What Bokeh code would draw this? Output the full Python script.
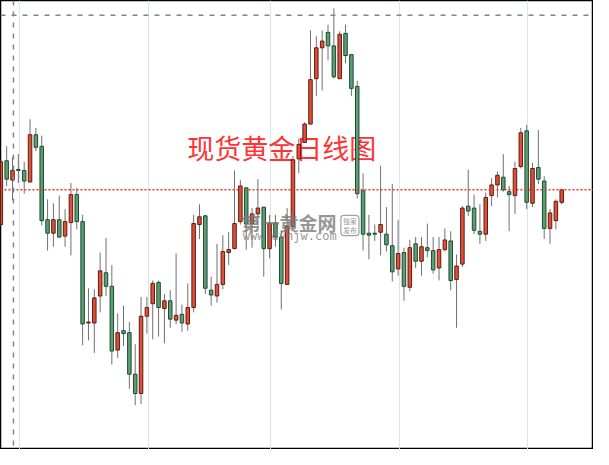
from bokeh.plotting import figure
from bokeh.models import Range1d, Span, FixedTicker, ColumnDataSource
from bokeh.core.properties import value
from bokeh.embed import file_html
from bokeh.resources import INLINE

title_text = "现货黄金日线图"
watermark_main = "第一黄金网"
watermark_url = "www.dyhjw.com"
watermark_box = ["独家", "发布"]

opens = [1868,1934,1914,1925,1924,1912,1961,1949,1873,1859,1873,1856,1870,1899,1871,1766,1766,1794,1818,1804,
         1738,1758,1756,1713,1693,1773,1786,1808,1781,1789,1769,1775,1765,1782,1868,1877,1800,1794,1806,1839,
         1843,1871,1906,1869,1879,1886,1843,1869,1855,1806,1866,1936,1953,1972,2019,2051,2067,2053,2019,2066,
         2044,2011,1903,1859,1859,1860,1858,1846,1822,1839,1803,1848,1830,1844,1841,1823,1842,1851,1811,1827,
         1887,1885,1861,1858,1898,1909,1917,1902,1898,1928,1965,1890,1927,1913,1864,1872,1891]
closes = [1933,1915,1924,1924,1913,1961,1948,1872,1859,1873,1855,1871,1899,1871,1765,1767,1792,1820,1804,1737,
          1756,1755,1713,1693,1773,1782,1807,1782,1789,1770,1774,1766,1782,1869,1876,1802,1795,1806,1840,1842,
          1869,1908,1869,1879,1885,1843,1869,1855,1807,1866,1935,1951,1972,2018,2051,2058,2053,2021,2065,2043,
          2009,1900,1858,1857,1858,1868,1847,1819,1838,1804,1844,1830,1845,1841,1821,1842,1852,1810,1825,1885,
          1882,1862,1858,1896,1909,1919,1904,1899,1926,1963,1891,1926,1915,1864,1880,1892,1904]
highs = [1935,1949,1938,1941,1933,1977,1968,1960,1894,1890,1898,1884,1911,1906,1878,1802,1801,1839,1854,1826,
         1776,1784,1767,1744,1793,1793,1810,1810,1796,1800,1838,1785,1807,1878,1889,1878,1814,1848,1857,1860,
         1924,1914,1906,1885,1915,1886,1878,1878,1862,1885,1939,1957,1974,2069,2063,2069,2075,2092,2068,2075,
         2044,2017,1921,1878,1868,1929,1886,1910,1873,1844,1852,1855,1855,1869,1855,1855,1864,1861,1837,1887,
         1925,1899,1889,1901,1916,1923,1941,1908,1933,1968,1971,1932,1966,1918,1884,1894,1905]
lows = [1866,1908,1893,1911,1900,1912,1944,1867,1841,1845,1854,1845,1836,1863,1743,1748,1735,1777,1794,1723,
        1730,1742,1698,1681,1682,1755,1749,1752,1745,1761,1765,1757,1758,1777,1853,1796,1784,1787,1801,1826,
        1843,1868,1842,1844,1867,1814,1833,1845,1780,1806,1863,1921,1953,1972,2001,2007,2038,2019,2019,2035,
        2001,1895,1841,1832,1851,1836,1840,1809,1815,1789,1799,1823,1815,1834,1817,1810,1840,1800,1761,1824,
        1877,1858,1848,1851,1887,1896,1902,1861,1879,1926,1884,1886,1910,1853,1848,1863,1889]
month_starts = [3.17, 25.2, 46.2, 68.2, 90.2]
level_high = 2084.7
level_current = 1904
cursor_day = 2.16

n = len(opens)
days = list(range(n))
up = [c >= o for o, c in zip(opens, closes)]
fill = ["#df5039" if u else "#5c9f76" for u in up]
edge = ["#5e1a10" if u else "#1e4a2d" for u in up]
src = ColumnDataSource(dict(
    x=days,
    top=[max(o, c) for o, c in zip(opens, closes)],
    bottom=[min(o, c) for o, c in zip(opens, closes)],
    hi=[max(h, o, c) for h, o, c in zip(highs, opens, closes)],
    lo=[min(l, o, c) for l, o, c in zip(lows, opens, closes)],
    fill=fill, edge=edge,
))

p = figure(width=593, height=449, output_backend="svg", toolbar_location=None,
           x_range=Range1d(-0.055, 101.44), y_range=Range1d(1635, 2100),
           min_border=0, background_fill_color="white")
p.xaxis.visible = False
p.yaxis.visible = False
p.ygrid.visible = False
p.xgrid.ticker = FixedTicker(ticks=month_starts)
p.xgrid.grid_line_color = "#dde4ec"
p.xgrid.grid_line_width = 1
p.outline_line_color = "black"
p.outline_line_width = 1.5

# title (drawn beneath the candles)
p.text(x=[31.9], y=[1948], text=[title_text], text_color="#ff3333",
       text_font=value("Noto Sans CJK SC"), text_font_size="27px",
       text_align="left", text_baseline="middle")

p.add_layout(Span(location=level_current, dimension="width", line_color="#e63b27",
                  line_dash="2 2", line_width=1.3))
p.add_layout(Span(location=level_high, dimension="width", line_color="#7d8590",
                  line_dash="5 6", line_width=1.5))
p.add_layout(Span(location=cursor_day, dimension="height", line_color="#7d8590",
                  line_dash="5 6", line_width=1.5))

p.segment(x0="x", x1="x", y0="lo", y1="hi", source=src, line_color="#707070", line_width=1)
p.vbar(x="x", width=0.6, top="top", bottom="bottom", source=src,
       fill_color="fill", line_color="edge", line_width=1)

# watermark
p.text(x=[41.2], y=[1870.5], text=[watermark_main], text_color="#7a7a7a", text_alpha=0.8,
       text_font=value("Noto Sans CJK SC"), text_font_size="19px", text_font_style="bold",
       text_align="left", text_baseline="middle")
p.text(x=[41.4], y=[1856.5], text=[watermark_url], text_color="#7a7a7a", text_alpha=0.8,
       text_font=value("DejaVu Sans Mono"), text_font_size="12px",
       text_align="left", text_baseline="middle")
p.quad(left=[58.2], right=[61.3], top=[1877.5], bottom=[1856.5], fill_color=None,
       line_color="#8a8a8a", line_alpha=0.8, line_width=1.2, border_radius=3)
p.text(x=[59.75, 59.75], y=[1872, 1862], text=watermark_box, text_color="#7a7a7a", text_alpha=0.8,
       text_font=value("Noto Sans CJK SC"), text_font_size="7px",
       text_align="center", text_baseline="middle")

open("out.html", "w").write(file_html(p, INLINE))
